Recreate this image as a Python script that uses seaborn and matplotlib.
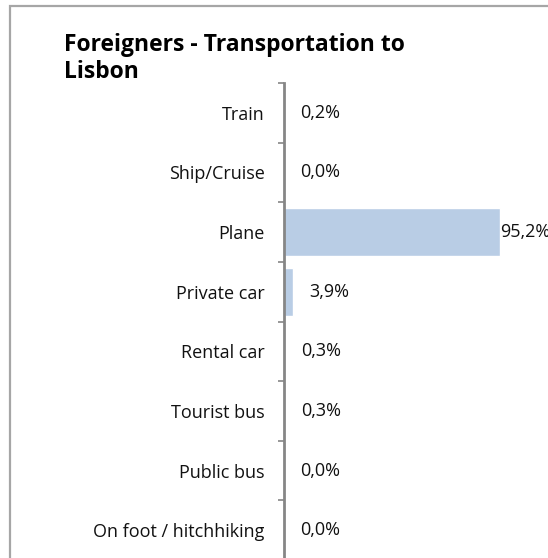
import matplotlib
matplotlib.use("Agg")
import matplotlib.pyplot as plt
from matplotlib.patches import Rectangle
from matplotlib.ticker import FixedLocator
import seaborn as sns
import pandas as pd

# Share of foreign visitors by means of transport used to reach Lisbon (%)
modes = ["Train", "Ship/Cruise", "Plane", "Private car", "Rental car",
         "Tourist bus", "Public bus", "On foot / hitchhiking"]
shares = [0.2, 0.0, 95.2, 3.9, 0.3, 0.3, 0.0, 0.0]
title = "Foreigners - Transportation to\nLisbon"

df = pd.DataFrame({"mode": modes, "share": shares})

sns.set_theme(style="white")
plt.rcParams["font.family"] = ["Open Sans", "DejaVu Sans"]

W, H = 548, 558
fig = plt.figure(figsize=(W / 100, H / 100), dpi=100)
fig.patch.set_facecolor("white")

# chart frame (runs off the right and bottom edges)
fig.patches.append(Rectangle((10 / W, -0.1), 1.2, 1.1 - 6.5 / H,
                             transform=fig.transFigure, fill=False,
                             edgecolor="#a6a6a6", linewidth=1.6))

ax = fig.add_axes([284 / W, -2 / H, 216 / W * 100 / 95.2, (560 - 83) / H])
ax.set_facecolor("none")

sns.barplot(data=df, x="share", y="mode", orient="h", color="#b9cde5",
            saturation=1, width=0.8, ax=ax)

ax.set_xlim(0, 100)
ax.set_ylim(len(modes) - 0.5, -0.5)
ax.set_xlabel("")
ax.set_ylabel("")
ax.set_xticks([])

for s in ["top", "right", "bottom"]:
    ax.spines[s].set_visible(False)
ax.spines["left"].set_color("#868686")
ax.spines["left"].set_linewidth(2)

ax.yaxis.set_minor_locator(FixedLocator([i + 0.5 for i in range(-1, len(modes))]))
ax.tick_params(axis="y", which="major", length=0, pad=14, labelsize=13,
               labelcolor="#111111")
ax.tick_params(axis="y", which="minor", length=4, width=1.2, color="#868686",
               left=True)

for i, v in enumerate(shares):
    off = 0 if v > 50 else 11.5
    ax.annotate(f"{v:.1f}%".replace(".", ","), xy=(v, i),
                xytext=(off, 0), textcoords="offset points",
                ha="left", va="center", fontsize=13, color="#111111",
                annotation_clip=False)

fig.text(64 / W, 1 - 33 / H, title, ha="left", va="top", fontsize=16.5,
         fontweight="bold", color="black", linespacing=1.15)

fig.savefig("out.png", dpi=100)
